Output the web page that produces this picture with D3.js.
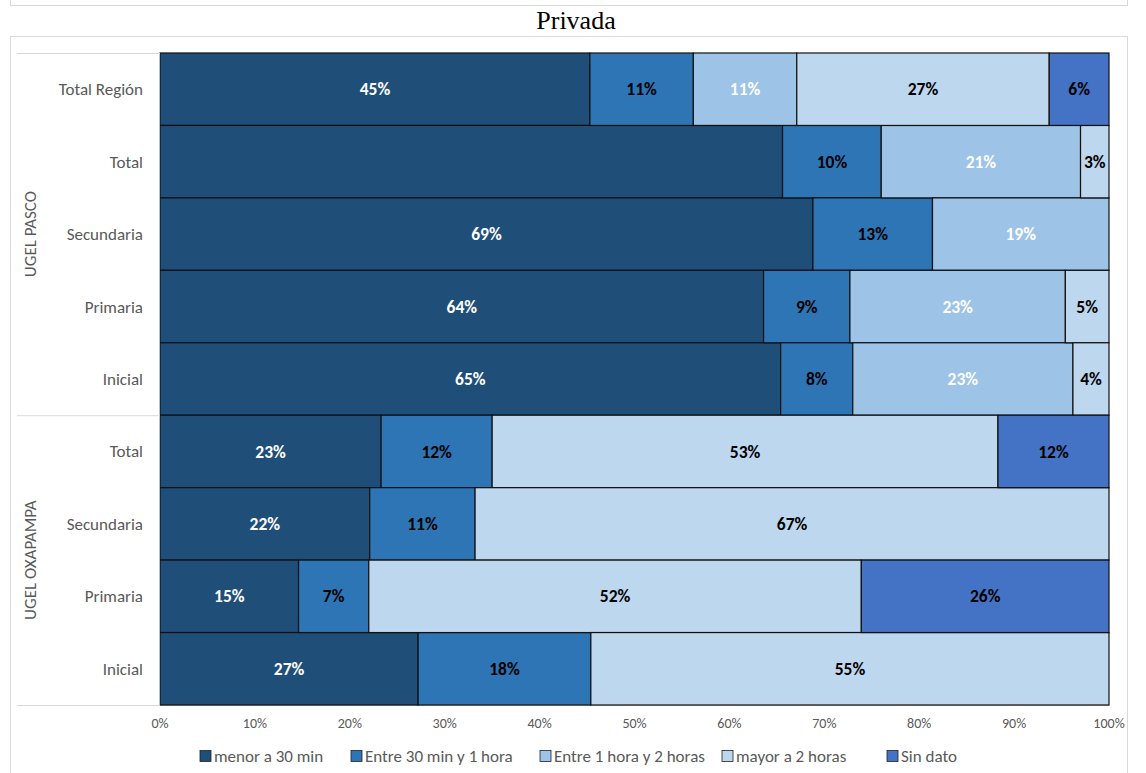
<!DOCTYPE html>
<html>
<head>
<meta charset="utf-8">
<script src="https://cdn.jsdelivr.net/npm/d3@7"></script>
<style>
  body { margin: 0; background: #fff; }
  svg text { font-family: Carlito, Lato, "Liberation Sans", sans-serif; }
</style>
</head>
<body>
<svg id="chart" width="1146" height="773"></svg>
<script>
//
// DATA
//
const rows = ['Total Región', 'Total', 'Secundaria', 'Primaria', 'Inicial',
              'Total', 'Secundaria', 'Primaria', 'Inicial']
const groups = [
    { name: 'UGEL PASCO', from: 0, to: 4 },
    { name: 'UGEL OXAPAMPA', from: 5, to: 8 }
]
const seriesNames = ['menor a 30 min', 'Entre 30 min y 1 hora', 'Entre 1 hora y 2 horas',
                     'mayor a 2 horas', 'Sin dato']
// shares in % per row (top to bottom)
const menor30 = [45.3, 65.6, 68.8, 63.6, 65.4, 23.3, 22.1, 14.6, 27.2]
const entre30a1h = [10.9, 10.4, 12.6, 9.1, 7.6, 11.7, 11.1, 7.4, 18.2]
const entre1a2h = [10.9, 21.0, 18.6, 22.7, 23.2, 0, 0, 0, 0]
const mayor2h = [26.6, 3.0, 0, 4.6, 3.8, 53.3, 66.8, 51.9, 54.6]
const sinDato = [6.3, 0, 0, 0, 0, 11.7, 0, 26.1, 0]
const xTicks = [0, 10, 20, 30, 40, 50, 60, 70, 80, 90, 100]
// the original has no label on this cell (row-series)
const hiddenLabels = ['1-0']

//
// STYLE
//
const colors = ['#1F4E79', '#2E75B6', '#9DC3E6', '#BDD7EE', '#4472C4']
const labelColors = ['#fff', '#000', '#fff', '#000', '#000']
const grey = '#595959'

const svg = d3.select('#chart')
const margin = { left: 160, right: 1109, top: 53, bottom: 705 }

// frame boxes (chart area border like in Excel)
svg.append('line')
    .attr('x1', 10).attr('x2', 1128).attr('y1', 5.5).attr('y2', 5.5)
    .attr('stroke', '#d9d9d9')
svg.append('line').attr('x1', 10.5).attr('x2', 10.5).attr('y1', 0).attr('y2', 5)
    .attr('stroke', '#d9d9d9')
svg.append('line').attr('x1', 1127.5).attr('x2', 1127.5).attr('y1', 0).attr('y2', 5)
    .attr('stroke', '#d9d9d9')
svg.append('rect')
    .attr('x', 10.5).attr('y', 36.5).attr('width', 1117).attr('height', 745)
    .attr('fill', 'none').attr('stroke', '#d9d9d9')

// title
svg.append('text')
    .attr('x', 576).attr('y', 29)
    .attr('text-anchor', 'middle')
    .style('font-family', '"Liberation Serif", "Times New Roman", serif')
    .style('font-size', '26px')
    .attr('fill', '#000')
    .text('Privada')

// 1) scales
const x = d3.scaleLinear().domain([0, 100]).range([margin.left, margin.right])
const y = d3.scaleBand().domain(d3.range(rows.length)).range([margin.top, margin.bottom])

// 2) stack the series
const table = rows.map((r, i) => ({
    idx: i, s0: menor30[i], s1: entre30a1h[i], s2: entre1a2h[i], s3: mayor2h[i], s4: sinDato[i]
}))
const keys = ['s0', 's1', 's2', 's3', 's4']
const stacked = d3.stack().keys(keys)(table)

const fmt = v => Math.round(v) + '%'

// axis base line under the bars
svg.append('line')
    .attr('x1', margin.left).attr('x2', margin.right)
    .attr('y1', margin.bottom + 0.5).attr('y2', margin.bottom + 0.5)
    .attr('stroke', '#bfbfbf')

stacked.forEach((layer, si) => {
    const g = svg.append('g').attr('class', 'series series-' + si)
    const cells = layer.filter(d => d[1] - d[0] > 0)
    g.selectAll('rect')
        .data(cells)
        .join('rect')
        .attr('x', d => x(d[0]))
        .attr('y', d => y(d.data.idx))
        .attr('width', d => x(d[1]) - x(d[0]))
        .attr('height', y.bandwidth())
        .attr('fill', colors[si])
        .attr('stroke', '#111')
        .attr('stroke-width', 1.2)
    g.selectAll('text')
        .data(cells.filter(d => !hiddenLabels.includes(d.data.idx + '-' + si)))
        .join('text')
        .attr('x', d => (x(d[0]) + x(d[1])) / 2)
        .attr('y', d => y(d.data.idx) + y.bandwidth() / 2)
        .attr('dy', '0.35em')
        .attr('text-anchor', 'middle')
        .attr('fill', labelColors[si])
        .style('font-size', '17.5px')
        .style('font-weight', 'bold')
        .text(d => fmt(d[1] - d[0]))
})

// 3) category axis (left)
svg.append('line')
    .attr('x1', margin.left - 0.5).attr('x2', margin.left - 0.5)
    .attr('y1', margin.top).attr('y2', margin.bottom)
    .attr('stroke', '#bfbfbf')
// separators between groups, extended left
const seps = [margin.top, y(groups[1].from), margin.bottom]
seps.forEach(v => {
    svg.append('line')
        .attr('x1', 17).attr('x2', margin.left)
        .attr('y1', v + 0.5).attr('y2', v + 0.5)
        .attr('stroke', '#d9d9d9')
})
svg.selectAll('text.cat')
    .data(rows)
    .join('text')
    .attr('class', 'cat')
    .attr('x', 143)
    .attr('y', (d, i) => y(i) + y.bandwidth() / 2)
    .attr('dy', '0.35em')
    .attr('text-anchor', 'end')
    .attr('fill', grey)
    .style('font-size', '17px')
    .text(d => d)

// group labels rotated
groups.forEach(gr => {
    const cy = (y(gr.from) + y(gr.to) + y.bandwidth()) / 2
    svg.append('text')
        .attr('transform', `translate(30,${cy}) rotate(-90)`)
        .attr('dy', '0.35em')
        .attr('text-anchor', 'middle')
        .attr('fill', grey)
        .style('font-size', '17px')
        .text(gr.name)
})

// 4) value axis (bottom)
svg.selectAll('text.tick')
    .data(xTicks)
    .join('text')
    .attr('class', 'tick')
    .attr('x', d => x(d))
    .attr('y', 723)
    .attr('dy', '0.35em')
    .attr('text-anchor', 'middle')
    .attr('fill', grey)
    .style('font-size', '14px')
    .text(d => d + '%')

// 5) legend
const legendX = [200, 351, 540, 722, 887]
const leg = svg.append('g').attr('class', 'legend')
seriesNames.forEach((name, i) => {
    leg.append('rect')
        .attr('x', legendX[i]).attr('y', 750.5)
        .attr('width', 11).attr('height', 11)
        .attr('fill', colors[i])
        .attr('stroke', '#222').attr('stroke-width', 0.8)
    leg.append('text')
        .attr('x', legendX[i] + 14).attr('y', 756)
        .attr('dy', '0.35em')
        .attr('fill', grey)
        .style('font-size', '17px')
        .text(name)
})
</script>
</body>
</html>
